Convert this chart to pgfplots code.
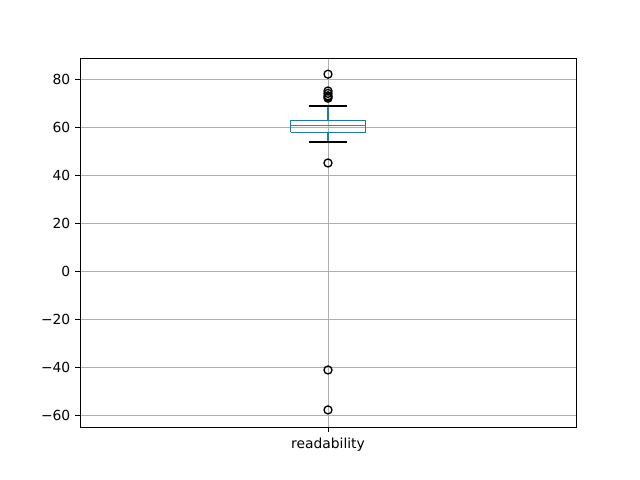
\documentclass[border=0pt]{standalone}
\usepackage{fontspec}
\setmainfont{DejaVu Sans}
\usepackage{pgfplots}
\pgfplotsset{compat=1.18}
\definecolor{mplblue}{HTML}{1F77B4}
\definecolor{mplgreen}{HTML}{2CA02C}
\definecolor{gridgray}{HTML}{B0B0B0}
\begin{document}
\fontsize{10.4pt}{12pt}\selectfont
\begin{tikzpicture}
\begin{axis}[
    scale only axis,
    width=372pt, height=276.75pt,
    xmin=0.5, xmax=1.5,
    ymin=-65, ymax=88.75,
    xtick={1}, xticklabels={readability},
    ytick={-60,-40,-20,0,20,40,60,80},
    yticklabels={−60,−40,−20,0,20,40,60,80},
    tick pos=left,
    grid=major,
    major grid style={gridgray, line width=0.6pt},
    axis line style={black, line width=0.6pt},
    tick style={black, line width=0.6pt},
    tick align=outside,
    major tick length=3.6pt,
    tick label style={font=\fontsize{10.4pt}{12pt}\selectfont},
    xticklabel style={yshift=-1pt},
]
% box (quartiles 57.8 / 62.8)
\addplot[mplblue, line width=1pt] coordinates {
    (0.925,57.8) (1.075,57.8) (1.075,62.8) (0.925,62.8) (0.925,57.8)};
% median
\addplot[mplgreen, line width=1pt] coordinates {(0.925,60.5) (1.075,60.5)};
% whiskers
\addplot[mplblue, line width=1pt] coordinates {(1,62.8) (1,68.75)};
\addplot[mplblue, line width=1pt] coordinates {(1,57.8) (1,53.75)};
% caps
\addplot[black, line width=1pt] coordinates {(0.961,68.75) (1.039,68.75)};
\addplot[black, line width=1pt] coordinates {(0.961,53.75) (1.039,53.75)};
% outliers
\addplot[only marks, mark=o, mark size=3pt,
    mark options={draw=black, fill=none, line width=1pt}] coordinates {
    (1,82) (1,75) (1,74) (1,73) (1,72.5) (1,72) (1,45) (1,-41.25) (1,-57.9)};
\end{axis}
\path (current axis.south west) ++(-60pt,-39.75pt);
\path (current axis.north east) ++(48pt,43.5pt);
\end{tikzpicture}
\end{document}
